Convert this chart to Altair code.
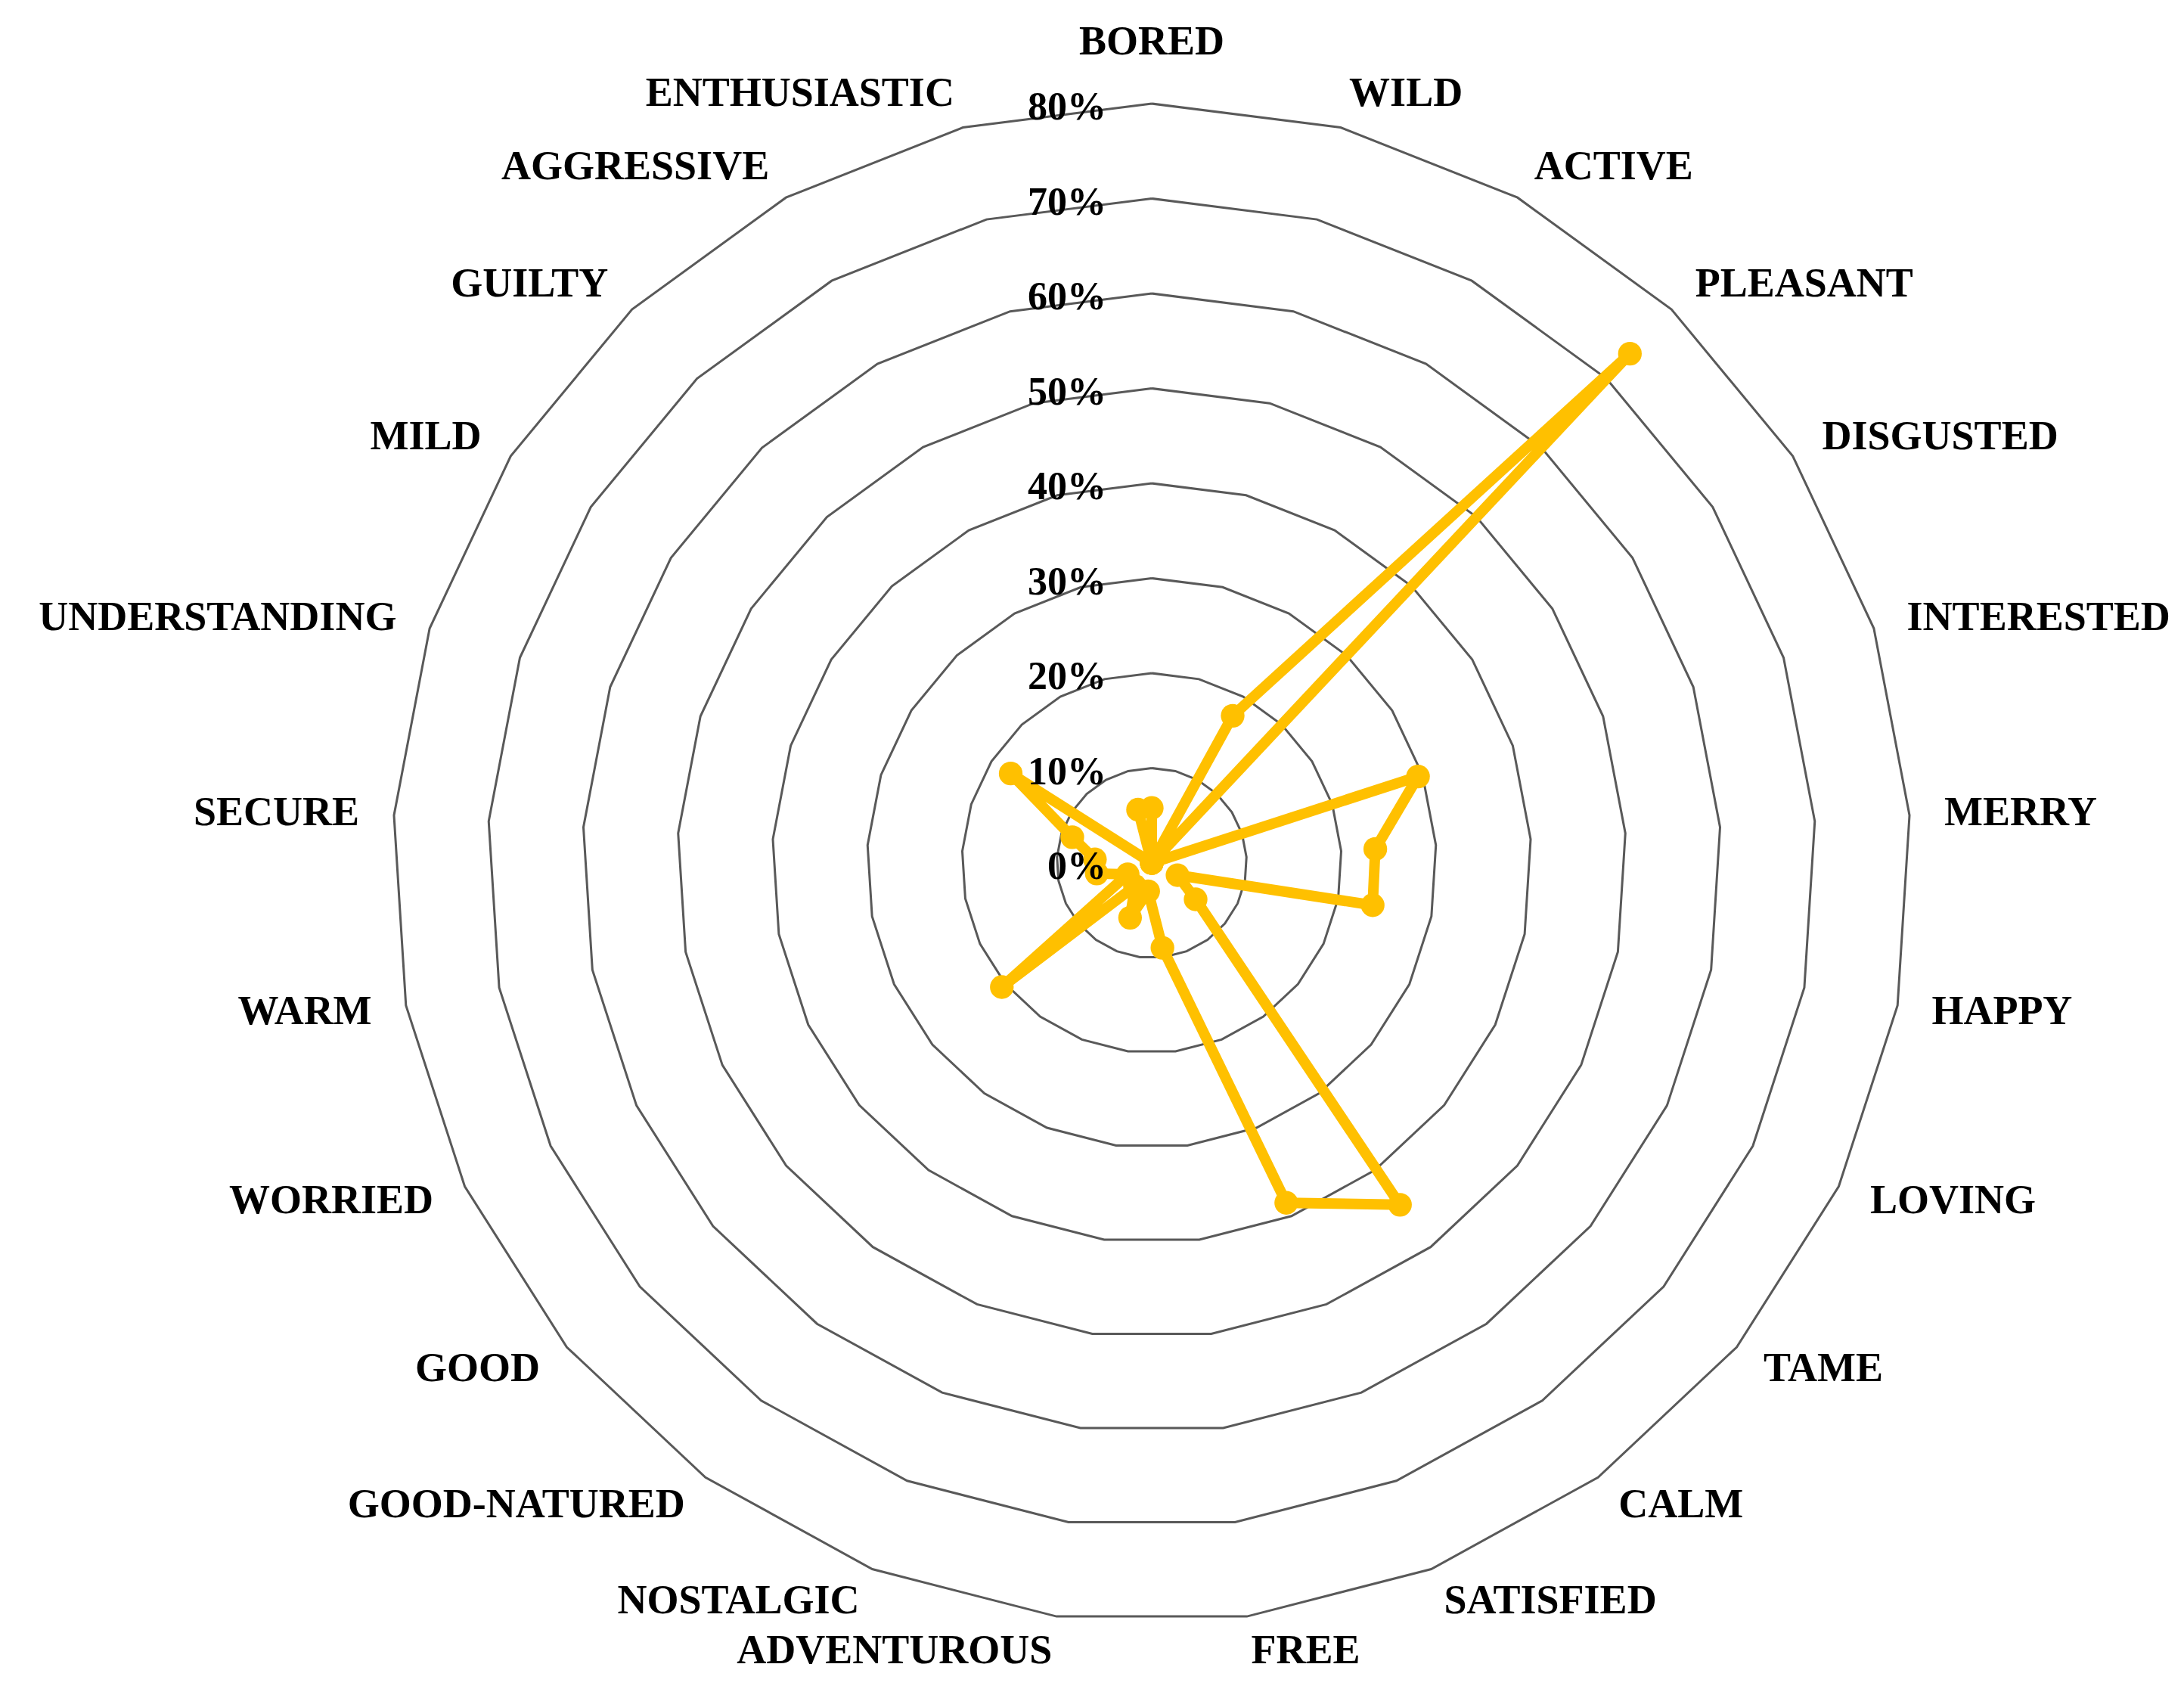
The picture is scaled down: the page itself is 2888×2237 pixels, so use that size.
import altair as alt
import pandas as pd

categories = ["BORED", "WILD", "ACTIVE", "PLEASANT", "DISGUSTED", "INTERESTED",
              "MERRY", "HAPPY", "LOVING", "TAME", "CALM", "SATISFIED", "FREE",
              "ADVENTUROUS", "NOSTALGIC", "GOOD-NATURED", "GOOD", "WORRIED", "WARM",
              "SECURE", "UNDERSTANDING", "MILD", "GUILTY", "AGGRESSIVE", "ENTHUSIASTIC"]
values = [5.8, 0.0, 17.7, 73.6, 0.0, 29.5,
          23.6, 23.7, 3.0, 6.0, 44.5, 38.5, 9.0,
          3.0, 6.2, 3.0, 20.5, 2.8, 5.9,
          6.0, 8.8, 17.6, 0.0, 0.0, 5.8]
ticks = [0, 10, 20, 30, 40, 50, 60, 70, 80]
tick_labels = ["0%", "10%", "20%", "30%", "40%", "50%", "60%", "70%", "80%"]

N = len(categories)

# layout constants (pixels)
W, H = 2870, 2220
CX, CY = 1515, 1133          # centre of the radar inside the plot area
PX = 12.55                   # pixels per percentage point
LABEL_R = 1050 / PX
LABEL_R_TOP = 1085 / PX
FONT = "Liberation Serif"

xdom = [-CX / PX, (W - CX) / PX]
ydom = [-(H - CY) / PX, CY / PX]
xs = alt.Scale(domain=xdom, nice=False, zero=False)
ys = alt.Scale(domain=ydom, nice=False, zero=False)

theta = f"datum.idx * 2 * PI / {N}"

# series (closed)
series = pd.DataFrame({
    "idx": list(range(N)) + [0],
    "order": list(range(N + 1)),
    "category": categories + [categories[0]],
    "value": values + [values[0]],
})

# grid rings
grid_rows = []
for r in ticks[1:]:
    for k in range(N + 1):
        grid_rows.append({"ring": r, "idx": k % N, "order": k})
grid = pd.DataFrame(grid_rows)

labels = pd.DataFrame({"idx": list(range(N)), "category": categories})
tickdf = pd.DataFrame({"value": ticks, "label": tick_labels})

X = lambda: alt.X("x:Q", scale=xs, axis=None)
Y = lambda: alt.Y("y:Q", scale=ys, axis=None)

grid_layer = alt.Chart(grid).transform_calculate(
    x=f"datum.ring * sin({theta})", y=f"datum.ring * cos({theta})"
).mark_line(color="#595959", strokeWidth=3).encode(
    x=X(), y=Y(), detail="ring:N", order="order:Q"
)

line_layer = alt.Chart(series).transform_calculate(
    x=f"datum.value * sin({theta})", y=f"datum.value * cos({theta})"
).mark_line(color="#FFC000", strokeWidth=14, strokeJoin="round", strokeCap="round").encode(
    x=X(), y=Y(), order="order:Q"
)

point_layer = alt.Chart(series).transform_filter("datum.order < %d" % N).transform_calculate(
    x=f"datum.value * sin({theta})", y=f"datum.value * cos({theta})"
).mark_point(filled=True, color="#FFC000", opacity=1, size=980, shape="circle").encode(
    x=X(), y=Y()
)

tick_layer = alt.Chart(tickdf).transform_calculate(
    x="0", y="datum.value"
).mark_text(font=FONT, fontWeight="bold", fontSize=52, color="black",
            align="right", baseline="middle", dx=-60, dy=5).encode(
    x=X(), y=Y(), text="label:N"
)

base_lab = alt.Chart(labels).transform_calculate(
    s=f"sin({theta})", c=f"cos({theta})"
)

lab_top = base_lab.transform_filter("abs(datum.s) < 0.01").transform_calculate(
    x=f"{LABEL_R_TOP} * datum.s", y=f"{LABEL_R_TOP} * datum.c"
).mark_text(font=FONT, fontWeight="bold", fontSize=54, color="black",
            align="center", baseline="middle").encode(x=X(), y=Y(), text="category:N")

lab_right = base_lab.transform_filter("datum.s >= 0.01").transform_calculate(
    x=f"{LABEL_R} * datum.s", y=f"{LABEL_R} * datum.c"
).mark_text(font=FONT, fontWeight="bold", fontSize=54, color="black",
            align="left", baseline="middle").encode(x=X(), y=Y(), text="category:N")

lab_left = base_lab.transform_filter("datum.s <= -0.01").transform_calculate(
    x=f"{LABEL_R} * datum.s", y=f"{LABEL_R} * datum.c"
).mark_text(font=FONT, fontWeight="bold", fontSize=54, color="black",
            align="right", baseline="middle").encode(x=X(), y=Y(), text="category:N")

chart = alt.layer(
    grid_layer, line_layer, point_layer, tick_layer, lab_top, lab_right, lab_left
).properties(
    width=W, height=H, padding=0, autosize=alt.AutoSizeParams(type="none")
).configure_view(stroke=None)

chart.save("out.html", embed_options={"renderer": "svg", "actions": False})
